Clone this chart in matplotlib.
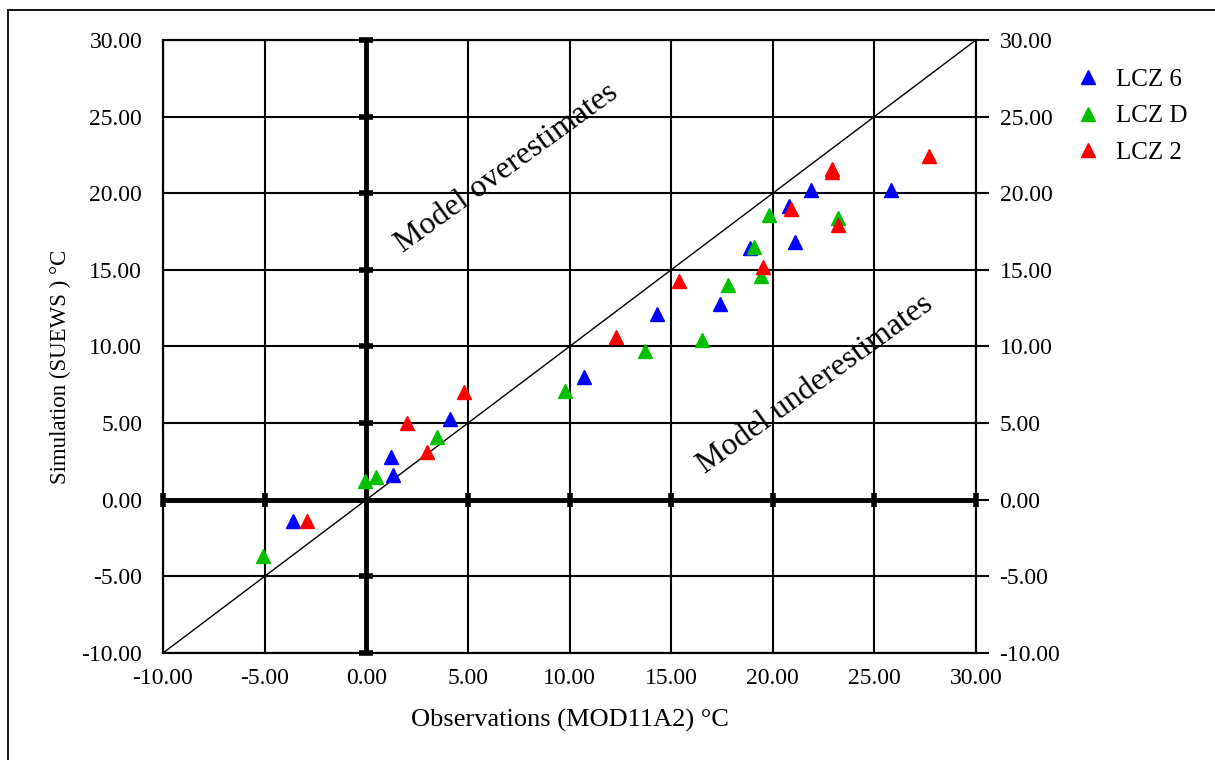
import matplotlib
matplotlib.use("Agg")
import matplotlib.pyplot as plt
from matplotlib.lines import Line2D
import numpy as np

plt.rcParams['font.family'] = ['Liberation Serif', 'DejaVu Serif']

# ---- data ----
series_names = ["LCZ 6", "LCZ D", "LCZ 2"]
series_colors = ["#0000FF", "#00C000", "#FF0000"]

lcz6_obs = [-3.6, 1.2, 1.3, 4.1, 10.7, 14.3, 17.4, 18.9, 20.8, 21.1, 21.9, 25.8]
lcz6_sim = [-1.4, 2.8, 1.6, 5.3, 8.0, 12.1, 12.8, 16.4, 19.2, 16.8, 20.2, 20.2]

lczd_obs = [-5.1, -0.05, 0.5, 3.5, 9.8, 13.7, 16.5, 17.8, 19.1, 19.4, 19.8, 23.2]
lczd_sim = [-3.7, 1.25, 1.5, 4.1, 7.1, 9.7, 10.4, 14.0, 16.5, 14.6, 18.6, 18.4]

lcz2_obs = [-2.9, 2.0, 3.0, 4.8, 12.3, 15.4, 19.5, 20.9, 22.9, 22.9, 23.2, 27.7]
lcz2_sim = [-1.4, 5.0, 3.1, 7.0, 10.6, 14.3, 15.2, 19.0, 21.6, 21.4, 17.9, 22.4]

ticks = [-10, -5, 0, 5, 10, 15, 20, 25, 30]
tick_labels = ["%.2f" % t for t in ticks]
x_label = "Observations (MOD11A2) °C"
y_label = "Simulation (SUEWS ) °C"
note_over = "Model overestimates"
note_under = "Model underestimates"

# ---- figure ----
W, H = 1215, 760
fig = plt.figure(figsize=(W / 100, H / 100), dpi=100)

# outer frame (left and top edges)
fig.add_artist(Line2D([8 / W, 8 / W], [1 - 10 / H, -0.1], transform=fig.transFigure,
                      color="black", lw=1.3))
fig.add_artist(Line2D([8 / W, 1.1], [1 - 10 / H, 1 - 10 / H], transform=fig.transFigure,
                      color="black", lw=1.3))

ax = fig.add_axes([163 / W, 1 - 653 / H, (976 - 163) / W, (653 - 40) / H])
ax.set_xlim(-10, 30)
ax.set_ylim(-10, 30)

ax.set_xticks(ticks)
ax.set_yticks(ticks)
ax.set_xticklabels(tick_labels)
ax.set_yticklabels(tick_labels)
ax.tick_params(axis="both", length=0, labelsize=17)
ax.tick_params(axis="x", pad=11)
ax.tick_params(axis="y", pad=15)
ax.grid(True, color="black", lw=1.5)
ax.set_axisbelow(True)
for s in ax.spines.values():
    s.set_linewidth(1.5)

# thick zero axes with cross ticks
ax.axhline(0, color="black", lw=3.5, zorder=2)
ax.axvline(0, color="black", lw=3.5, zorder=2)
nz = [t for t in ticks if t != 0]
ax.plot([0] * len(nz), nz, ls="none", marker="_", ms=10, mew=4, color="black", zorder=2,
        clip_on=False)
ax.plot(nz, [0] * len(nz), ls="none", marker="|", ms=10, mew=4, color="black", zorder=2,
        clip_on=False)

# 1:1 line
ax.plot([-10, 30], [-10, 30], color="black", lw=1.0, zorder=2)

for xs, ys, c, n in [(lcz6_obs, lcz6_sim, series_colors[0], series_names[0]),
                     (lczd_obs, lczd_sim, series_colors[1], series_names[1]),
                     (lcz2_obs, lcz2_sim, series_colors[2], series_names[2])]:
    ax.plot(xs, ys, ls="none", marker="^", ms=10, color=c, mec=c, label=n, zorder=3)

ax.text(6.9, 21.6, note_over, rotation=36, rotation_mode="anchor", ha="center",
        va="center", fontsize=23)
ax.text(22.1, 7.5, note_under, rotation=36, rotation_mode="anchor", ha="center",
        va="center", fontsize=23)

# right axis
ax2 = ax.twinx()
ax2.set_ylim(-10, 30)
ax2.set_yticks(ticks)
ax2.set_yticklabels(tick_labels)
ax2.tick_params(axis="y", direction="out", length=9, width=1.5, labelsize=17, pad=8)
for s in ax2.spines.values():
    s.set_linewidth(1.5)

fig.text(570 / W, 1 - 720 / H, x_label, ha="center", va="center", fontsize=19)
fig.text(60 / W, 1 - 367 / H, y_label, ha="center", va="center", rotation=90, fontsize=16.5)

leg = ax.legend(loc="upper left", bbox_to_anchor=(1065 / W, 1 - 58 / H),
                bbox_transform=fig.transFigure, frameon=False, fontsize=18,
                handlelength=1.0, handletextpad=0.65, labelspacing=0.57, borderaxespad=0)

fig.savefig("out.png", dpi=100)
